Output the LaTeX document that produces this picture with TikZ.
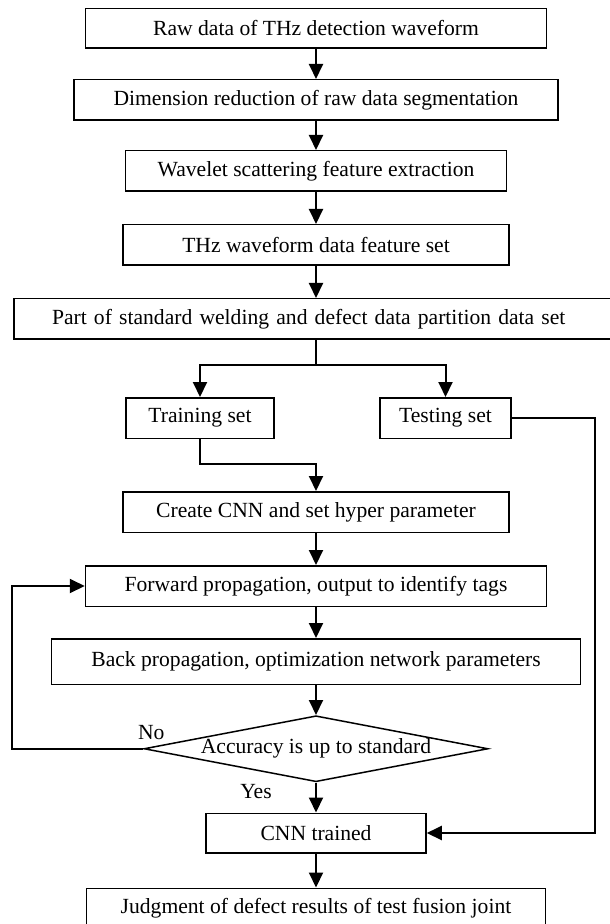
\documentclass[tikz,border=0pt]{standalone}
\usepackage{fontspec}
\setmainfont{Liberation Serif}
\usetikzlibrary{arrows.meta, positioning, shapes.geometric}

\begin{document}
\begin{tikzpicture}[x=0.5pt, y=-0.5pt, node distance=15pt,
    >={Triangle[length=7.5pt, width=7pt]},
    every node/.style={font=\fontsize{10.8}{13}\selectfont},
    box/.style={draw, line width=0.75pt, rectangle, minimum height=20.25pt, inner sep=2pt},
    flow/.style={->, line width=1pt}]

    \useasboundingbox (0,0) rectangle (609,924);

    % Main column
    \node (raw) [box, minimum width=230.5pt, minimum height=19.75pt] at (316,28.5) {Raw data of THz detection waveform};
    \node (dim) [box, minimum width=242pt, below=15pt of raw] {Dimension reduction of raw data segmentation};
    \node (wav) [box, minimum width=190.5pt, below=14.5pt of dim] {Wavelet scattering feature extraction};
    \node (feat) [box, minimum width=193pt, below=16pt of wav] {THz waveform data feature set};
    \node (part) [box, text width=264pt, align=left, inner xsep=19pt, below=16pt of feat] {Part of standard welding and defect data partition data set};

    % Split into the two sets
    \node (train) [box, minimum width=74pt, below=28.5pt of part, xshift=-58pt] {Training set};
    \node (test) [box, minimum width=65.5pt, below=28.5pt of part, xshift=64.75pt] {Testing set};

    % Network
    \node (cnn) [box, minimum width=193pt, below=75.5pt of part] {Create CNN and set hyper parameter};
    \node (fwd) [box, minimum width=230.5pt, below=16pt of cnn] {Forward propagation, output to identify tags};
    \node (back) [box, minimum width=264.5pt, minimum height=22.75pt, below=15.5pt of fwd] {Back propagation, optimization network parameters};
    \node (acc) [draw, diamond, line width=0.75pt, minimum width=172pt, minimum height=33pt, inner sep=0pt, below=15pt of back] {};
    \node (acctext) at (acc) {Accuracy is up to standard};
    \node (done) [box, minimum width=110pt, minimum height=19.75pt, below=15pt of acc] {CNN trained};
    \node (judge) [box, minimum width=229.5pt, below=17pt of done] {Judgment of defect results of test fusion joint};

    % Arrows
    \draw[flow] (raw) -- (dim);
    \draw[flow] (dim) -- (wav);
    \draw[flow] (wav) -- (feat);
    \draw[flow] (feat) -- (part);
    \draw[line width=1pt] (part.south) -- ++(0,-12.5pt) coordinate (split);
    \draw[flow] (split) -| (train);
    \draw[flow] (split) -| (test);
    \draw[flow] (train.south) -- ++(0,-12.5pt) -| (cnn);
    \draw[flow] (test.east) -- ++(41.5pt,0) |- (done);
    \draw[flow] (cnn) -- (fwd);
    \draw[flow] (fwd) -- (back);
    \draw[flow] (back) -- (acc);
    \draw[flow] (acc.west) -- ++(-65.5pt,0) |- (fwd);
    \draw[flow] (acc) -- (done);
    \draw[flow] (done) -- (judge);

    \node (no) at ([xshift=4pt, yshift=8pt]acc.west) {No};
    \node (yes) at ([xshift=-30pt, yshift=-4.5pt]acc.south) {Yes};

\end{tikzpicture}
\end{document}
